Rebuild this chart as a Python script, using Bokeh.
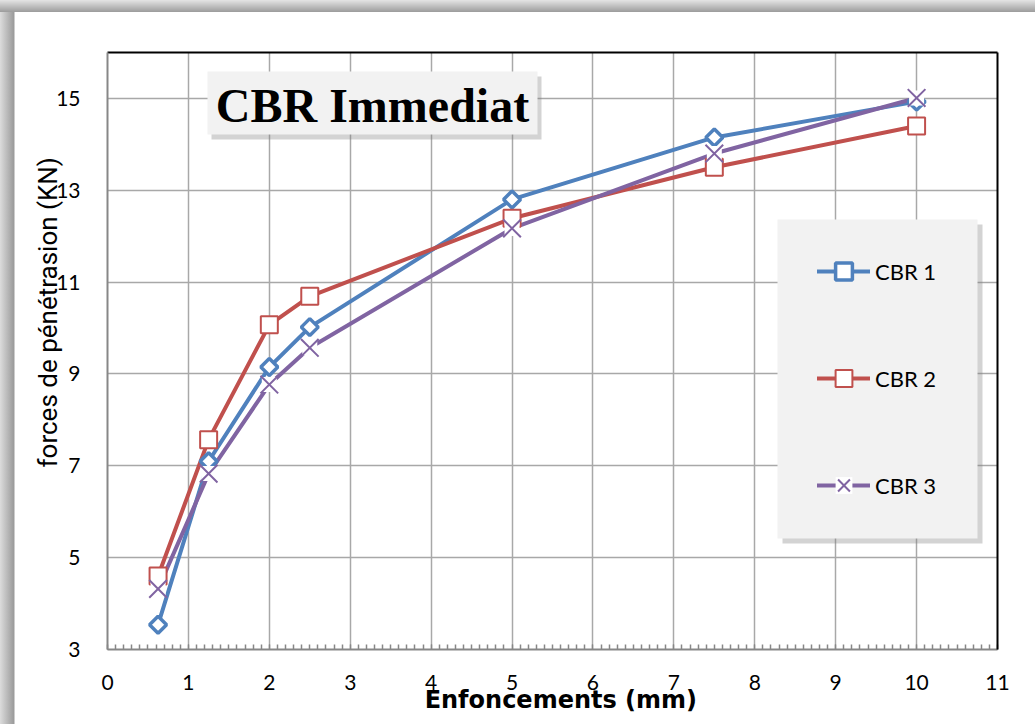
import numpy as np
from bokeh.plotting import figure
from bokeh.models import (Range1d, FixedTicker, LinearAxis, Label, BoxAnnotation,
                          Legend, LegendItem)
from bokeh.layouts import column
from bokeh.embed import file_html
from bokeh.resources import INLINE

# ---------------- data ----------------
enfoncement = [0.625, 1.25, 2.0, 2.5, 5.0, 7.5, 10.0]
cbr1 = [3.54, 7.10, 9.15, 10.02, 12.80, 14.15, 14.93]
cbr2 = [4.60, 7.57, 10.07, 10.69, 12.39, 13.50, 14.40]
cbr3 = [4.32, 6.83, 8.77, 9.57, 12.17, 13.80, 15.01]
series_names = ["CBR 1", "CBR 2", "CBR 3"]
x_ticks = list(range(0, 12))
x_minor_ticks = [i / 10 for i in range(0, 111)]
y_ticks = [3, 5, 7, 9, 11, 13, 15]
title_text = "CBR Immediat"
x_title = "Enfoncements (mm)"
y_title = "forces de pénétrasion (KN)"

BLUE = "#4f81bd"
RED = "#c0504d"
PURPLE = "#8064a2"
GRID = "#a8a8a8"
AXIS = "#878787"
NBSP = "\u00a0"

# window-pixel geometry of the plot frame (for decorations only)
FX0, FX1, FY0, FY1 = 107, 997, 52, 649
XMIN, XMAX, YMIN, YMAX = 0, 11, 3, 16


def dx(px):
    return XMIN + (px - FX0) / (FX1 - FX0) * (XMAX - XMIN)


def dy(py):
    return YMIN + (FY1 - py) / (FY1 - FY0) * (YMAX - YMIN)


OX, OY = 15, 12  # offset of figure inside page
W, H = 1035 - OX, 724 - OY

p = figure(width=W, height=H,
           x_range=Range1d(XMIN, XMAX), y_range=Range1d(YMIN, YMAX),
           output_backend="svg", toolbar_location=None,
           min_border_left=FX0 - OX, min_border_right=W - (FX1 - OX),
           min_border_top=FY0 - OY, min_border_bottom=H - (FY1 - OY),
           background_fill_color="white", border_fill_color="white",
           outline_line_color=None)
p.margin = (OY, 0, 0, OX)

# axes
xa = p.xaxis[0]
xa.ticker = FixedTicker(ticks=x_ticks, minor_ticks=x_minor_ticks)
xa.axis_line_color = AXIS
xa.axis_line_width = 2
xa.major_tick_in = 5
xa.major_tick_out = 0
xa.minor_tick_in = 5
xa.minor_tick_out = 0
xa.major_tick_line_color = AXIS
xa.minor_tick_line_color = AXIS
xa.minor_tick_line_width = 1.5
xa.major_label_text_font = "Lato"
xa.major_label_text_font_size = "21px"
xa.major_label_text_color = "black"
xa.major_label_standoff = 25
xa.axis_label = NBSP * 2 + x_title
xa.axis_label_text_font = "DejaVu Sans"
xa.axis_label_text_font_style = "bold"
xa.axis_label_text_font_size = "24px"
xa.axis_label_text_color = "black"
xa.axis_label_standoff = -7

ya = p.yaxis[0]
ya.ticker = FixedTicker(ticks=y_ticks)
ya.axis_line_color = AXIS
ya.axis_line_width = 2
ya.major_tick_in = 0
ya.major_tick_out = 0
ya.minor_tick_line_color = None
ya.major_label_text_font = "Lato"
ya.major_label_text_font_size = "21px"
ya.major_label_text_color = "black"
ya.major_label_standoff = 27
ya.axis_label = NBSP * 12 + y_title
ya.axis_label_text_font = "Liberation Sans Narrow, Roboto"
ya.axis_label_text_font_style = "normal"
ya.axis_label_text_font_size = "26px"
ya.axis_label_text_color = "black"
ya.axis_label_standoff = -10

for loc in ("right", "above"):
    ax = LinearAxis(ticker=FixedTicker(ticks=[]), axis_line_color="black",
                    axis_line_width=2, major_tick_line_color=None,
                    minor_tick_line_color=None)
    p.add_layout(ax, loc)

p.xgrid.ticker = FixedTicker(ticks=x_ticks)
p.ygrid.ticker = FixedTicker(ticks=y_ticks)
for g in (p.xgrid, p.ygrid):
    g.grid_line_color = GRID
    g.grid_line_width = 1.5

# lines
r1 = p.line(enfoncement, cbr1, line_color=BLUE, line_width=4, line_join="round", line_cap="round")
r2 = p.line(enfoncement, cbr2, line_color=RED, line_width=4, line_join="round", line_cap="round")
r3 = p.line(enfoncement, cbr3, line_color=PURPLE, line_width=4, line_join="round", line_cap="round")

# markers
m1 = p.scatter(enfoncement, cbr1, marker="square", size=12, angle=np.pi / 4,
               fill_color="white", line_color=BLUE, line_width=3.5)
m2 = p.scatter(enfoncement, cbr2, marker="square", size=17,
               fill_color="white", line_color=RED, line_width=2)
m3b = p.scatter(enfoncement, cbr3, marker="square", size=15,
                fill_color="white", line_color=None)
m3 = p.scatter(enfoncement, cbr3, marker="x", size=25,
               line_color=PURPLE, line_width=2)

# title box with shadow
p.add_layout(BoxAnnotation(left=dx(211), right=dx(541), top=dy(76), bottom=dy(139),
                           fill_color="#808080", fill_alpha=0.35, line_color=None))
p.add_layout(BoxAnnotation(left=dx(207), right=dx(537), top=dy(71), bottom=dy(134),
                           fill_color="#f2f2f2", fill_alpha=1, line_color=None))
p.add_layout(Label(x=dx(372), y=dy(105), text=title_text, text_font="Liberation Serif",
                   text_font_style="bold", text_font_size="48px", text_color="black",
                   text_align="center", text_baseline="alphabetic"))

# legend box with shadow
p.add_layout(BoxAnnotation(left=dx(782), right=dx(982), top=dy(224), bottom=dy(543),
                           fill_color="#808080", fill_alpha=0.35, line_color=None))
p.add_layout(BoxAnnotation(left=dx(777), right=dx(977), top=dy(219), bottom=dy(538),
                           fill_color="#f2f2f2", fill_alpha=1, line_color=None))

GH = 42
legend = Legend(items=[LegendItem(label=series_names[0], renderers=[r1, m1]),
                       LegendItem(label=series_names[1], renderers=[r2, m2]),
                       LegendItem(label=series_names[2], renderers=[r3, m3b, m3])],
                location=(817 - FX0, FY1 - (485 + GH // 2)), orientation="vertical",
                padding=0, margin=0, spacing=107 - GH, glyph_width=53, glyph_height=GH,
                label_height=GH, label_standoff=5,
                label_text_font="Lato", label_text_font_size="22px",
                label_text_color="black",
                background_fill_alpha=0, border_line_color=None)
p.add_layout(legend)

page = column(p, styles={
    "background": "linear-gradient(to bottom, #e4e4e4 0px, #9c9c9c 12px, rgba(0,0,0,0) 12px), "
                  "linear-gradient(to right, #dcdcdc 0px, #9a9a9a 14px, #ffffff 15px)"
})

open("out.html", "w").write(file_html(page, INLINE))
